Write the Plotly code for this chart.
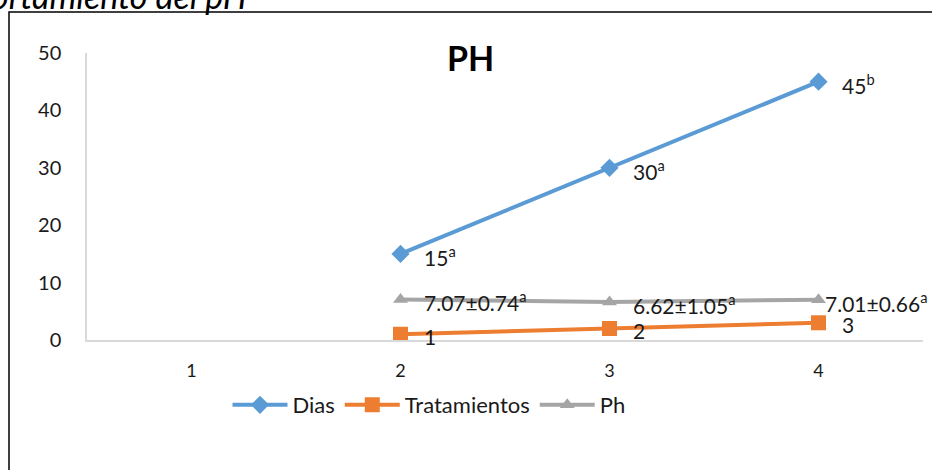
import plotly.graph_objects as go

# ---- data ----
categories = ["1", "2", "3", "4"]
dias = [None, 15, 30, 45]
tratamientos = [None, 1, 2, 3]
ph = [None, 7.07, 6.62, 7.01]
dias_labels = [None, "15<sup>a</sup>", "30<sup>a</sup>", "45<sup>b</sup>"]
trat_labels = [None, "1", "2", "3"]
ph_labels = [None, "7.07±0.74<sup>a</sup>", "6.62±1.05<sup>a</sup>", "7.01±0.66<sup>a</sup>"]
y_ticks = [0, 10, 20, 30, 40, 50]

# ---- layout geometry ----
W, H = 932, 470
ML, MR, MT, MB = 87, 9, 53, 130
PW, PH_ = W - ML - MR, H - MT - MB
FONT = "Lato"
TXT = "#1a1a1a"


def px_x(p):
    return (p - ML) / PW


def px_y(p):
    return (H - MB - p) / PH_


series = [
    ("Dias", dias, dias_labels, "#5B9BD5", "diamond", 14),
    ("Tratamientos", tratamientos, trat_labels, "#ED7D31", "square", 15),
    ("Ph", ph, ph_labels, "#A5A5A5", "triangle-up", 13),
]
# per-label horizontal offset (pixels) – Excel nudged the last pH label left
label_xshift = {("Ph", 3): 4}

fig = go.Figure()
annotations = []
for name, vals, labels, color, symbol, msize in series:
    fig.add_trace(go.Scatter(
        x=categories, y=vals, name=name, mode="lines+markers",
        line=dict(color=color, width=4),
        marker=dict(symbol=symbol, size=msize, color=color),
    ))
    for i, (v, lab) in enumerate(zip(vals, labels)):
        if v is None:
            continue
        annotations.append(dict(
            x=i, y=v, xref="x", yref="y", text=lab, showarrow=False,
            xanchor="left", yanchor="middle",
            xshift=label_xshift.get((name, i), 21), yshift=-2,
            font=dict(family=FONT, size=21, color=TXT),
        ))

annotations.append(dict(
    text="<b>PH</b>", xref="paper", yref="paper", x=px_x(470), y=px_y(58),
    xanchor="center", yanchor="middle", showarrow=False,
    font=dict(family=FONT, size=34, color="#000000"),
))
annotations.append(dict(
    text="<i>Comportamiento del pH</i>", xref="paper", yref="paper",
    x=px_x(249), y=px_y(-5), xanchor="right", yanchor="middle", showarrow=False,
    font=dict(family=FONT, size=34, color="#000000"),
))

fig.update_layout(
    width=W, height=H,
    margin=dict(l=ML, r=MR, t=MT, b=MB),
    paper_bgcolor="white", plot_bgcolor="white",
    showlegend=True,
    legend=dict(
        orientation="h", x=px_x(429), xanchor="center",
        y=px_y(405), yanchor="middle",
        font=dict(family=FONT, size=22, color=TXT),
        bgcolor="rgba(0,0,0,0)", itemwidth=55,
    ),
    annotations=annotations,
    shapes=[dict(
        type="rect", xref="paper", yref="paper",
        x0=px_x(9), x1=px_x(980), y0=px_y(520), y1=px_y(12),
        line=dict(color="#000000", width=1.5), fillcolor="rgba(0,0,0,0)",
        layer="below",
    )],
)
fig.update_xaxes(
    type="category", range=[-0.5, 3.5],
    showgrid=False, zeroline=False,
    showline=True, linecolor="#D9D9D9", linewidth=1.5,
    ticks="", ticklabelstandoff=14,
    tickfont=dict(family=FONT, size=18, color=TXT),
)
fig.update_yaxes(
    range=[0, 50], tickvals=y_ticks,
    showgrid=False, zeroline=False,
    showline=True, linecolor="#D9D9D9", linewidth=1.5,
    ticks="", ticklabelstandoff=20,
    tickfont=dict(family=FONT, size=20, color=TXT),
)

fig.write_html("out.html")
